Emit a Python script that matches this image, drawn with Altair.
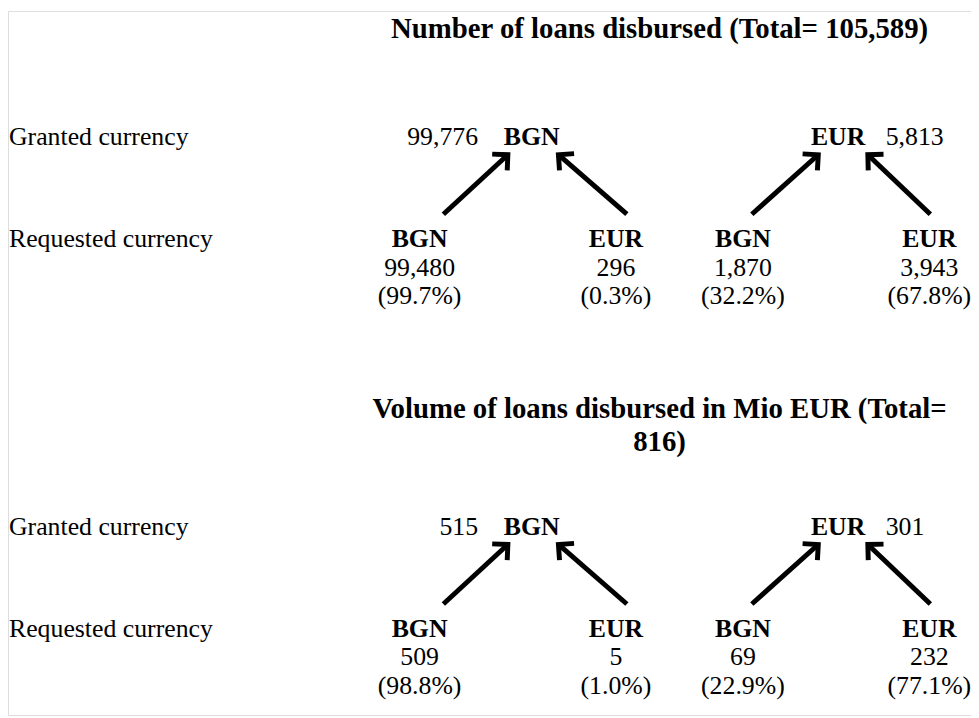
import altair as alt
import pandas as pd

# ---------------- data ----------------
panel_titles = ["Number of loans disbursed", "Volume of loans disbursed in Mio EUR"]
panel_totals = ["105,589", "816"]
row_labels = ["Granted currency", "Requested currency"]
granted_currencies = ["BGN", "EUR"]
requested_currencies = ["BGN", "EUR", "BGN", "EUR"]
count_granted = [99776, 5813]
count_requested = [99480, 296, 1870, 3943]
count_share = [99.7, 0.3, 32.2, 67.8]
volume_granted = [515, 301]
volume_requested = [509, 5, 69, 232]
volume_share = [98.8, 1.0, 22.9, 77.1]

# ---------------- layout (page pixel coordinates) ----------------
panel_offset = [0, 393]
title_x = 665
title_y = [35, 418]
title_line_gap = 34
granted_y = 143
requested_y = [246, 275, 304]
label_x = 9
granted_code_x = [536, 845]
granted_value_right_x = 482
granted_value_left_x = 893
requested_x = [423, 621, 749, 937]
arrow_tail_x = [447, 632, 758, 938]
arrow_head_x = [512, 563, 825, 875]
arrow_tail_y = 213
arrow_head_y = 153

panels = [
    (count_granted, count_requested, count_share),
    (volume_granted, volume_requested, volume_share),
]

texts = []
arrows = []
for p, (g_vals, r_vals, r_share) in enumerate(panels):
    off = panel_offset[p]
    full_title = f"{panel_titles[p]} (Total= {panel_totals[p]})"
    if p == 0:
        texts.append(dict(x=title_x, y=title_y[p], text=full_title, style="title"))
    else:
        head, tail = full_title.rsplit(" ", 1)
        texts.append(dict(x=title_x, y=title_y[p], text=head, style="title"))
        texts.append(dict(x=title_x, y=title_y[p] + title_line_gap, text=tail, style="title"))
    texts.append(dict(x=label_x, y=granted_y + off, text=row_labels[0], style="left"))
    texts.append(dict(x=label_x, y=requested_y[0] + off, text=row_labels[1], style="left"))
    # granted currencies
    for i, cur in enumerate(granted_currencies):
        texts.append(dict(x=granted_code_x[i], y=granted_y + off, text=cur, style="bold"))
    texts.append(dict(x=granted_value_right_x, y=granted_y + off,
                      text=f"{g_vals[0]:,}", style="right"))
    texts.append(dict(x=granted_value_left_x, y=granted_y + off,
                      text=f"{g_vals[1]:,}", style="left"))
    # requested currencies
    for j, cur in enumerate(requested_currencies):
        texts.append(dict(x=requested_x[j], y=requested_y[0] + off, text=cur, style="bold"))
        texts.append(dict(x=requested_x[j], y=requested_y[1] + off,
                          text=f"{r_vals[j]:,}", style="center"))
        texts.append(dict(x=requested_x[j], y=requested_y[2] + off,
                          text=f"({r_share[j]:.1f}%)", style="center"))
        arrows.append(dict(x=arrow_tail_x[j], y=arrow_tail_y + off,
                           x2=arrow_head_x[j], y2=arrow_head_y + off))

text_df = pd.DataFrame(texts)
arrow_df = pd.DataFrame(arrows)

XS = alt.Scale(domain=[8, 979], range=[0, 971], nice=False, zero=False)
YS = alt.Scale(domain=[8, 718], range=[0, 710], nice=False, zero=False)
X = alt.X("x:Q", scale=XS, axis=None)
Y = alt.Y("y:Q", scale=YS, axis=None)

FONT = "Liberation Serif"


def text_layer(style, align, size, weight):
    return (
        alt.Chart(text_df)
        .transform_filter(alt.datum.style == style)
        .mark_text(align=align, baseline="alphabetic", font=FONT, fontSize=size,
                   fontWeight=weight, color="black")
        .encode(x=X, y=Y, text="text:N")
    )


layers = [
    text_layer("title", "center", 29, "bold"),
    text_layer("bold", "center", 26, "bold"),
    text_layer("left", "left", 26, "normal"),
    text_layer("right", "right", 26, "normal"),
    text_layer("center", "center", 26, "normal"),
]

shafts = (
    alt.Chart(arrow_df)
    .mark_rule(strokeWidth=5, strokeCap="butt", color="black")
    .encode(x=X, y=Y, x2="x2:Q", y2="y2:Q")
)

heads = (
    alt.Chart(arrow_df)
    .transform_calculate(ang="(atan2(datum.x2 - datum.x, datum.y - datum.y2) * 180 / PI + 360) % 360")
    .mark_point(shape="M-1,1L0,0L1,1", filled=False, size=500, strokeWidth=5,
                color="black", opacity=1, strokeJoin="miter", strokeCap="butt")
    .encode(
        x=alt.X("x2:Q", scale=XS, axis=None),
        y=alt.Y("y2:Q", scale=YS, axis=None),
        angle=alt.Angle("ang:Q", scale=None),
    )
)

chart = (
    alt.layer(shafts, heads, *layers)
    .properties(width=971, height=710, autosize=alt.AutoSizeParams(type="none"), padding=0)
    .configure_view(stroke=None)
    .configure(background="white")
)

chart.save("out.html", embed_options={"renderer": "svg", "actions": False})
